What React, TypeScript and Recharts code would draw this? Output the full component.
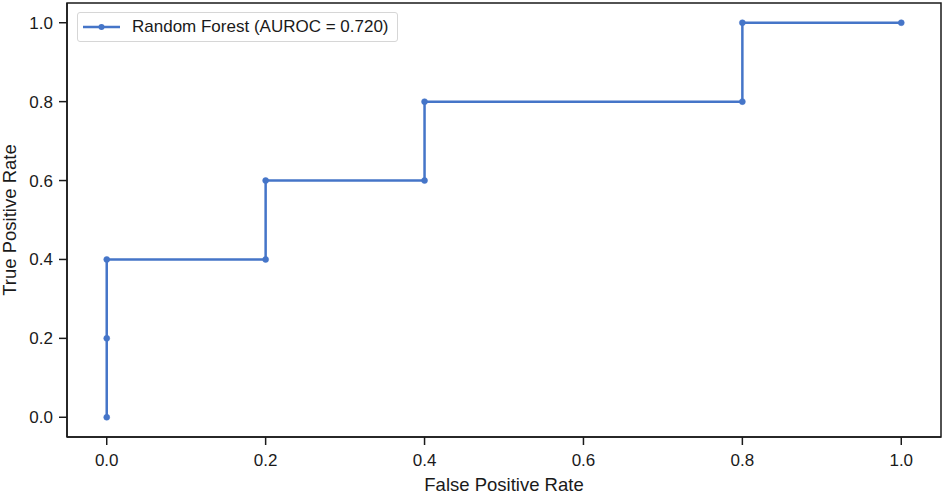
import React from 'react';
import { LineChart, Line, XAxis, YAxis, ReferenceArea } from 'recharts';

const fpr = [0, 0, 0, 0.2, 0.2, 0.4, 0.4, 0.8, 0.8, 1.0];
const tpr = [0, 0.2, 0.4, 0.4, 0.6, 0.6, 0.8, 0.8, 1.0, 1.0];
const ticks = [0, 0.2, 0.4, 0.6, 0.8, 1.0];
const seriesName = 'Random Forest (AUROC = 0.720)';

const data = fpr.map((x, i) => ({ fpr: x, tpr: tpr[i] }));

const BLUE = '#4575c8';
const INK = '#1a1a1a';
const FONT = '"Liberation Sans", Arial, sans-serif';
const DOMAIN: [number, number] = [-0.05, 1.05];

const LegendBox = () => (
  <div
    style={{
      position: 'absolute',
      left: 77,
      top: 12,
      display: 'flex',
      alignItems: 'center',
      border: '1px solid #d6d6d6',
      borderRadius: 3,
      background: 'rgba(255,255,255,0.8)',
      height: 30,
      width: 321,
      boxSizing: 'border-box',
      fontFamily: FONT,
      fontSize: 17,
      color: INK,
    }}
  >
    <svg width={50} height={12} style={{ marginLeft: 4 }}>
      <line x1={1} y1={6} x2={38} y2={6} stroke={BLUE} strokeWidth={2.5} />
      <circle cx={19.5} cy={6} r={3} fill={BLUE} />
    </svg>
    <span>{seriesName}</span>
  </div>
);

export default function App() {
  return (
    <div style={{ position: 'absolute', left: 0, top: 0, width: 945, height: 494, background: '#fff' }}>
      <LineChart width={945} height={494} data={data} margin={{ top: 3, right: 4, bottom: 0, left: 0 }}>
        <XAxis
          dataKey="fpr"
          type="number"
          domain={DOMAIN}
          ticks={ticks}
          allowDataOverflow
          tickFormatter={(v) => Number(v).toFixed(1)}
          height={57}
          stroke={INK}
          strokeWidth={1.5}
          tickSize={8}
          tick={{ fill: INK, fontSize: 17, fontFamily: FONT }}
          tickMargin={9}
          label={{ value: 'False Positive Rate', position: 'insideBottom', offset: 3, fill: INK, fontSize: 18.5, fontFamily: FONT }}
        />
        <YAxis
          dataKey="tpr"
          type="number"
          domain={DOMAIN}
          ticks={ticks}
          allowDataOverflow
          tickFormatter={(v) => Number(v).toFixed(1)}
          width={67}
          stroke={INK}
          strokeWidth={1.5}
          tickSize={8}
          tick={{ fill: INK, fontSize: 17, fontFamily: FONT }}
          tickMargin={6}
          label={{ value: 'True Positive Rate', angle: -90, position: 'insideLeft', offset: 9, fill: INK, fontSize: 18.5, fontFamily: FONT, style: { textAnchor: 'middle' } }}
        />
        <ReferenceArea
          x1={DOMAIN[0]}
          x2={DOMAIN[1]}
          y1={DOMAIN[0]}
          y2={DOMAIN[1]}
          fill="none"
          stroke={INK}
          strokeWidth={1.5}
          ifOverflow="visible"
        />
        <Line
          dataKey="tpr"
          name={seriesName}
          type="linear"
          stroke={BLUE}
          strokeWidth={2.5}
          dot={{ r: 3, fill: BLUE, stroke: BLUE, strokeWidth: 0.5 }}
          isAnimationActive={false}
        />
      </LineChart>
      <LegendBox />
    </div>
  );
}
